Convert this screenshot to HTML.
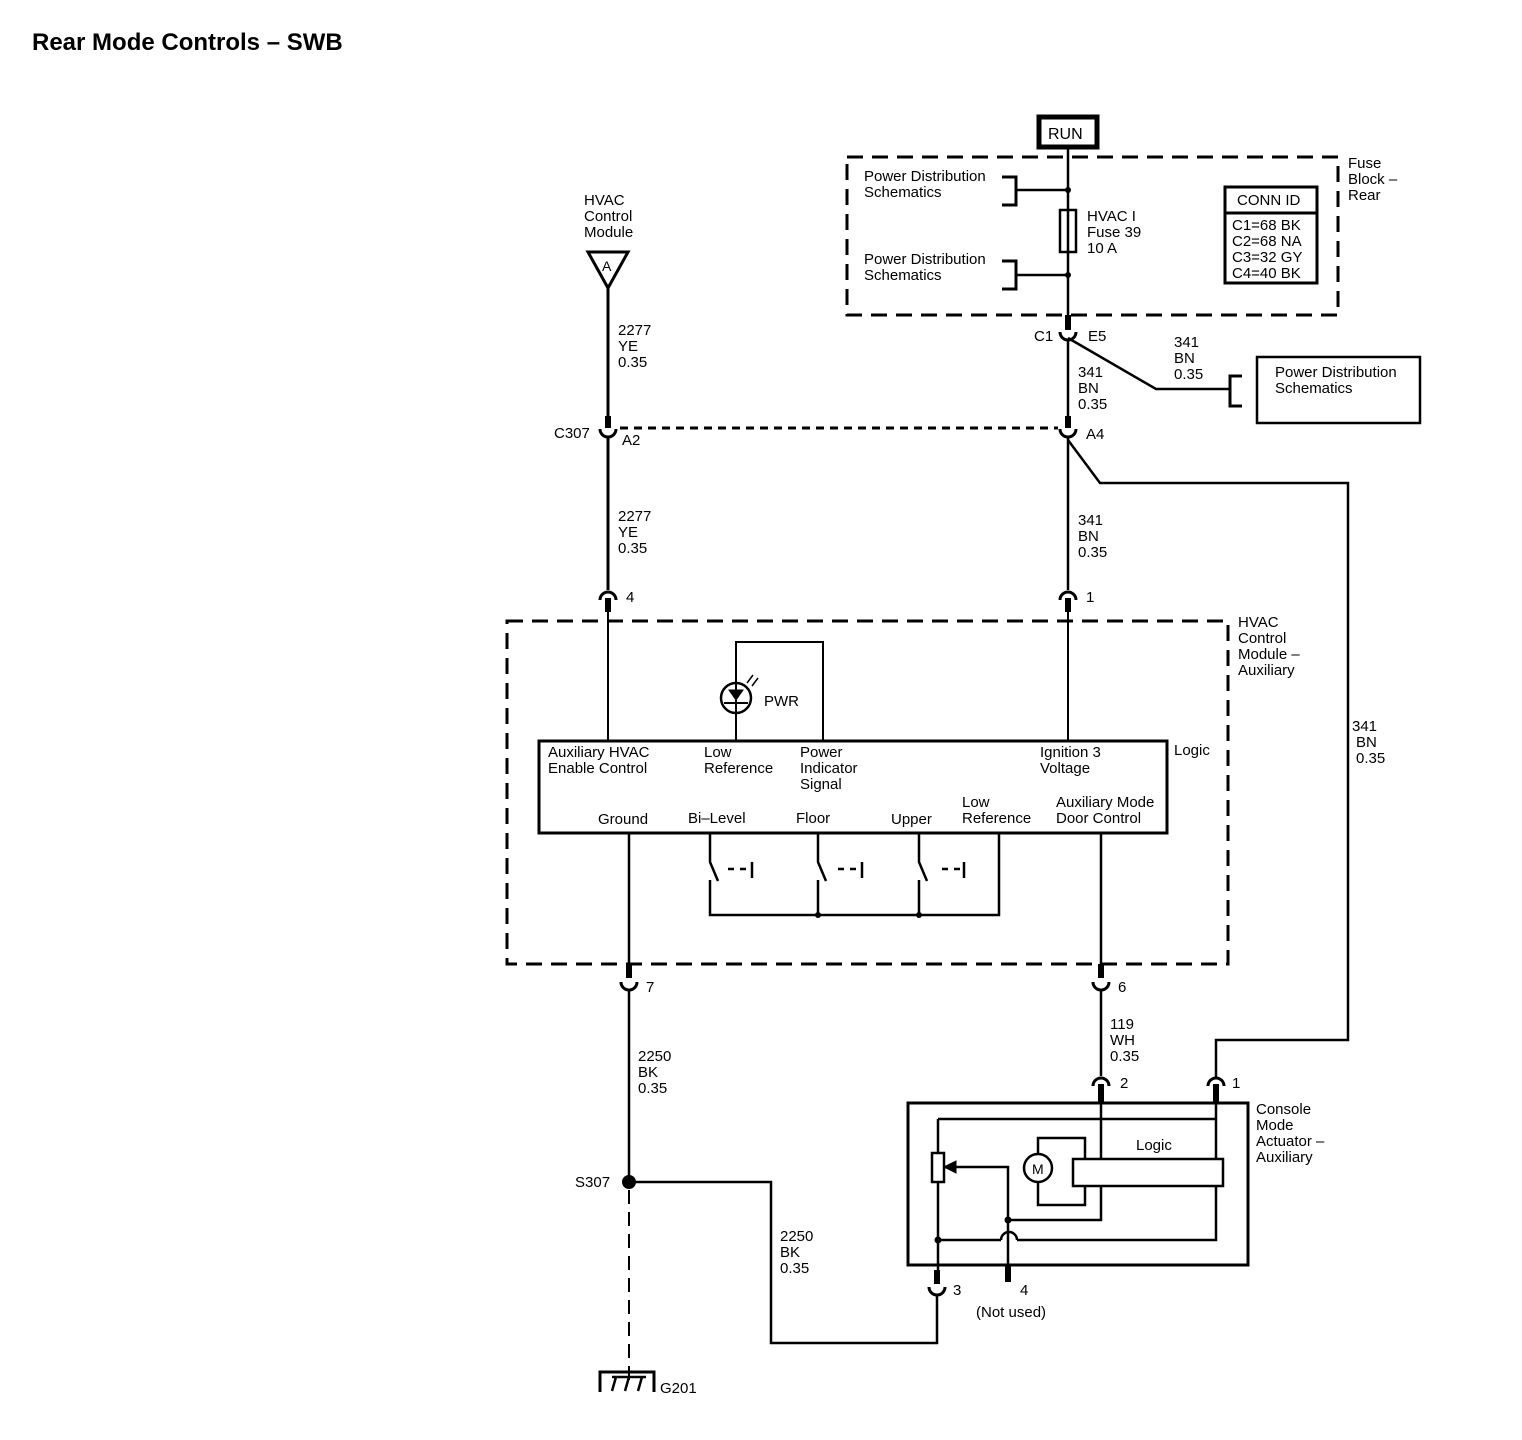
<!DOCTYPE html>
<html><head><meta charset="utf-8"><style>
html,body{margin:0;padding:0;background:#fff}
svg{display:block}
text{font-family:"Liberation Sans",sans-serif;font-size:15px;fill:#000}
</style></head><body>
<svg width="1522" height="1440" viewBox="0 0 1522 1440" xmlns="http://www.w3.org/2000/svg">
<text x="32" y="50" style="font-size:24px;font-weight:bold">Rear Mode Controls – SWB</text>
<g fill="none" stroke="#000" stroke-width="3">
<rect x="1039" y="117" width="58" height="30" stroke-width="5"/>
<rect x="847" y="157" width="491" height="158" stroke-dasharray="16,9"/>
<line x1="1068" y1="149" x2="1068" y2="330" stroke-width="2.5"/>
<rect x="1060" y="210" width="16" height="42" stroke-width="2.5"/>
<polyline points="1002,177 1016,177 1016,205 1002,205" />
<line x1="1016" y1="190" x2="1068" y2="190" stroke-width="2.5"/>
<polyline points="1002,261 1016,261 1016,289 1002,289"/>
<line x1="1016" y1="275" x2="1068" y2="275" stroke-width="2.5"/>
<rect x="1225" y="187" width="92" height="96"/>
<line x1="1225" y1="213" x2="1317" y2="213"/>
<line x1="1068" y1="315" x2="1068" y2="330" stroke-width="6"/>
<path d="M1060,332 A8,8 0 0 0 1076,332"/>
<line x1="1068" y1="340" x2="1068" y2="418" stroke-width="2.5"/>
<polyline points="1068,338 1156,389 1230,389" stroke-width="2.5"/>
<polyline points="1242,376 1230,376 1230,406 1242,406"/>
<rect x="1257" y="357" width="163" height="66" stroke-width="2.5"/>
<line x1="1068" y1="416" x2="1068" y2="428" stroke-width="6"/>
<path d="M1060,429 A8,8 0 0 0 1076,429"/>
<line x1="620" y1="428" x2="1058" y2="428" stroke-dasharray="8,6"/>
<line x1="1068" y1="437" x2="1068" y2="590" stroke-width="2.5"/>
<polyline points="1068,440 1100,483 1348,483 1348,1040 1216,1040 1216,1078" stroke-width="2.5"/>
<polygon points="588,252 628,252 608,288" stroke-width="3"/>
<line x1="608" y1="288" x2="608" y2="418" stroke-width="3"/>
<line x1="608" y1="416" x2="608" y2="428" stroke-width="6"/>
<path d="M600,429 A8,8 0 0 0 616,429"/>
<line x1="608" y1="437" x2="608" y2="590" stroke-width="3"/>
<path d="M600,600 A8,8 0 0 1 616,600"/>
<line x1="608" y1="598" x2="608" y2="612" stroke-width="6"/>
<path d="M1060,600 A8,8 0 0 1 1076,600"/>
<line x1="1068" y1="598" x2="1068" y2="612" stroke-width="6"/>
<rect x="507" y="621" width="721" height="343" stroke-dasharray="16,9"/>
<line x1="608" y1="612" x2="608" y2="740" stroke-width="2"/>
<line x1="1068" y1="612" x2="1068" y2="740" stroke-width="2"/>
<rect x="539" y="741" width="628" height="92"/>
<polyline points="736,740 736,642 823,642 823,740" stroke-width="2"/>
<circle cx="736" cy="698" r="15" stroke-width="2.5"/>
<line x1="724" y1="703" x2="748" y2="703" stroke-width="2"/>
<polygon points="729,690 743,690 736,700" fill="#000" stroke-width="1"/>
<path d="M747,683 l6,-8 M752,686 l6,-8" stroke-width="1.5"/>
<g stroke-width="2.5">
<line x1="629" y1="833" x2="629" y2="975"/>
<line x1="1101" y1="833" x2="1101" y2="975"/>
<polyline points="710,833 710,862 718,881"/><polyline points="710,880 710,915 999,915 999,833"/>
<polyline points="818,833 818,862 826,881"/><line x1="818" y1="880" x2="818" y2="915"/>
<polyline points="919,833 919,862 927,881"/><line x1="919" y1="880" x2="919" y2="915"/>
<path d="M728,869 h6 M740,869 h6 M752,862 v16 M850,869 h6 M838,869 h6 M862,862 v16 M942,869 h6 M954,869 h6 M964,862 v16"/>
</g>
<line x1="629" y1="964" x2="629" y2="978" stroke-width="6"/>
<path d="M621,982 A8,8 0 0 0 637,982"/>
<line x1="1101" y1="964" x2="1101" y2="978" stroke-width="6"/>
<path d="M1093,982 A8,8 0 0 0 1109,982"/>
<line x1="629" y1="990" x2="629" y2="1182" stroke-width="2.5"/>
<line x1="629" y1="1190" x2="629" y2="1385" stroke-width="2" stroke-dasharray="14,8"/>
<polyline points="629,1182 771,1182 771,1343 937,1343 937,1295" stroke-width="2.5"/>
<polyline points="600,1392 600,1372 654,1372 654,1392"/>
<path d="M612,1391 l4,-14 M625,1391 l4,-14 M638,1391 l4,-14 M612,1377 h34" stroke-width="2.5"/>
<line x1="1101" y1="990" x2="1101" y2="1076" stroke-width="2.5"/>
<path d="M1093,1086 A8,8 0 0 1 1109,1086"/>
<line x1="1101" y1="1084" x2="1101" y2="1103" stroke-width="6"/>
<path d="M1208,1086 A8,8 0 0 1 1224,1086"/>
<line x1="1216" y1="1084" x2="1216" y2="1103" stroke-width="6"/>
<rect x="908" y="1103" width="340" height="162"/>
<g stroke-width="2.5">
<polyline points="1216,1103 1216,1240 1017,1240"/>
<path d="M1017,1240 A8,8 0 0 0 1001,1240"/>
<polyline points="1001,1240 938,1240"/>
<polyline points="938,1119 1216,1119"/>
<line x1="938" y1="1119" x2="938" y2="1152"/>
<rect x="932" y="1153" width="12" height="29"/>
<line x1="938" y1="1182" x2="938" y2="1278"/>
<polyline points="952,1167 1008,1167 1008,1265"/>
<polyline points="1008,1220 1101,1220 1101,1103"/>
<polyline points="1038,1154 1038,1138 1085,1138 1085,1205 1038,1205 1038,1182"/>
<circle cx="1038" cy="1168" r="14"/>
<rect x="1073" y="1159" width="150" height="27" fill="#fff"/>
</g>
<polygon points="944,1167 956,1161 956,1173" fill="#000" stroke-width="1"/>
<line x1="937" y1="1270" x2="937" y2="1284" stroke-width="6"/>
<path d="M929,1287 A8,8 0 0 0 945,1287"/>
<line x1="1008" y1="1265" x2="1008" y2="1282" stroke-width="6"/>
</g>
<g fill="#000">
<circle cx="1068" cy="190" r="3"/><circle cx="1068" cy="275" r="3"/>
<circle cx="818" cy="915" r="3"/><circle cx="919" cy="915" r="3"/>
<circle cx="629" cy="1182" r="7"/>
<circle cx="1008" cy="1220" r="3.5"/><circle cx="938" cy="1240" r="3.5"/>
</g>
<text x="1048" y="139" style="font-size:16px">RUN</text>
<text x="864" y="181">Power Distribution</text><text x="864" y="197">Schematics</text>
<text x="864" y="264">Power Distribution</text><text x="864" y="280">Schematics</text>
<text x="1087" y="221">HVAC I</text><text x="1087" y="237">Fuse 39</text><text x="1087" y="253">10 A</text>
<text x="1237" y="205">CONN ID</text>
<text x="1232" y="230">C1=68 BK</text><text x="1232" y="246">C2=68 NA</text><text x="1232" y="262">C3=32 GY</text><text x="1232" y="278">C4=40 BK</text>
<text x="1348" y="168">Fuse</text><text x="1348" y="184">Block –</text><text x="1348" y="200">Rear</text>
<text x="1034" y="341">C1</text><text x="1088" y="341">E5</text>
<text x="1174" y="347">341</text><text x="1174" y="363">BN</text><text x="1174" y="379">0.35</text>
<text x="1078" y="377">341</text><text x="1078" y="393">BN</text><text x="1078" y="409">0.35</text>
<text x="1275" y="377">Power Distribution</text><text x="1275" y="393">Schematics</text>
<text x="1086" y="439">A4</text>
<text x="584" y="205">HVAC</text><text x="584" y="221">Control</text><text x="584" y="237">Module</text>
<text x="602" y="271" style="font-size:14px">A</text>
<text x="618" y="335">2277</text><text x="618" y="351">YE</text><text x="618" y="367">0.35</text>
<text x="554" y="438">C307</text><text x="622" y="445">A2</text>
<text x="618" y="521">2277</text><text x="618" y="537">YE</text><text x="618" y="553">0.35</text>
<text x="1078" y="525">341</text><text x="1078" y="541">BN</text><text x="1078" y="557">0.35</text>
<text x="626" y="602">4</text><text x="1086" y="602">1</text>
<text x="1238" y="627">HVAC</text><text x="1238" y="643">Control</text><text x="1238" y="659">Module –</text><text x="1238" y="675">Auxiliary</text>
<text x="764" y="706">PWR</text>
<text x="1174" y="755">Logic</text>
<text x="548" y="757">Auxiliary HVAC</text><text x="548" y="773">Enable Control</text>
<text x="704" y="757">Low</text><text x="704" y="773">Reference</text>
<text x="800" y="757">Power</text><text x="800" y="773">Indicator</text><text x="800" y="789">Signal</text>
<text x="1040" y="757">Ignition 3</text><text x="1040" y="773">Voltage</text>
<text x="598" y="824">Ground</text><text x="688" y="823">Bi–Level</text><text x="796" y="823">Floor</text><text x="891" y="824">Upper</text>
<text x="962" y="807">Low</text><text x="962" y="823">Reference</text>
<text x="1056" y="807">Auxiliary Mode</text><text x="1056" y="823">Door Control</text>
<text x="1352" y="731">341</text><text x="1356" y="747">BN</text><text x="1356" y="763">0.35</text>
<text x="646" y="992">7</text><text x="1118" y="992">6</text>
<text x="638" y="1061">2250</text><text x="638" y="1077">BK</text><text x="638" y="1093">0.35</text>
<text x="1110" y="1029">119</text><text x="1110" y="1045">WH</text><text x="1110" y="1061">0.35</text>
<text x="1120" y="1088">2</text><text x="1232" y="1088">1</text>
<text x="1256" y="1114">Console</text><text x="1256" y="1130">Mode</text><text x="1256" y="1146">Actuator –</text><text x="1256" y="1162">Auxiliary</text>
<text x="1136" y="1150">Logic</text>
<text x="1032" y="1174" style="font-size:14px">M</text>
<text x="575" y="1187">S307</text>
<text x="780" y="1241">2250</text><text x="780" y="1257">BK</text><text x="780" y="1273">0.35</text>
<text x="953" y="1295">3</text><text x="1020" y="1295">4</text><text x="976" y="1317">(Not used)</text>
<text x="660" y="1393">G201</text>
</svg>
</body></html>
